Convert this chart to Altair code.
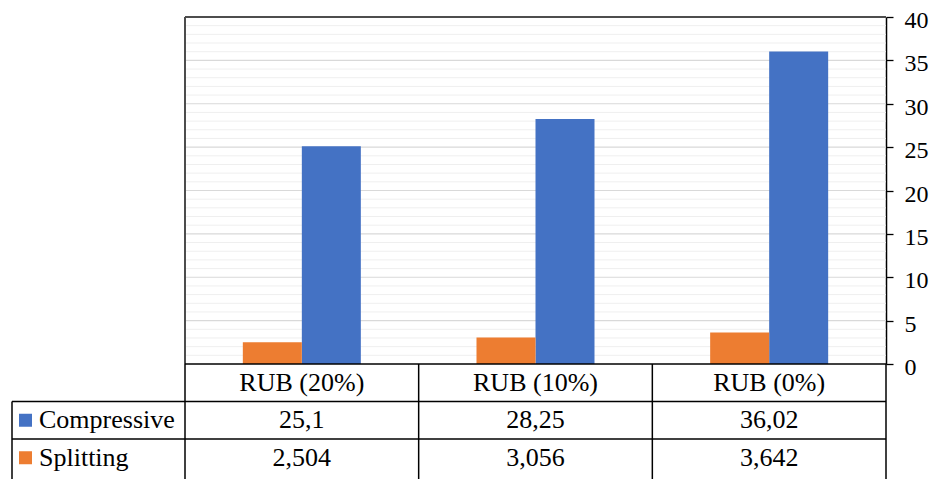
import altair as alt
import pandas as pd

categories = ["RUB (20%)", "RUB (10%)", "RUB (0%)"]
series = ["Compressive", "Splitting"]
compressive = [25.1, 28.25, 36.02]
splitting = [2.504, 3.056, 3.642]
major_ticks = [0, 5, 10, 15, 20, 25, 30, 35, 40]
minor_ticks = [i for i in range(1, 40) if i % 5 != 0]
colors = ["#4472C4", "#ED7D31"]
rows = ["header"] + series

FONT = "Liberation Serif"
FS = 26
PLOT_W = 701
PLOT_H = 347
TOTAL_H = 462

recs = []
for s, vals in zip(series, [compressive, splitting]):
    for c, v in zip(categories, vals):
        recs.append({"category": c, "series": s, "value": v,
                     "label": str(v).replace(".", ","), "row": s})
bars_df = pd.DataFrame(recs)
header_df = pd.DataFrame({"category": categories, "row": ["header"] * 3, "label": categories})
legend_df = pd.DataFrame({"series": series, "row": series})
minor_df = pd.DataFrame({"v": minor_ticks})
major_df = pd.DataFrame({"v": major_ticks[1:-1]})
row_df = pd.DataFrame({"row": ["Compressive", "Splitting"]})
hdr_row_df = pd.DataFrame({"row": ["header"]})

yscale = alt.Scale(domain=[0, 40], range=[PLOT_H, 0], nice=False, zero=True)
yaxis = alt.Axis(orient="right", values=major_ticks, title=None, grid=False,
                 tickSize=7, tickColor="#000000", tickWidth=1.3,
                 domainColor="#000000", domainWidth=1.5,
                 labelFont=FONT, labelFontSize=24, labelColor="#000000",
                 labelPadding=11, labelOffset=3.5, labelAlign="left", labelFlush=False)
xscale = alt.Scale(domain=categories, paddingInner=0, paddingOuter=0)
xenc = alt.X("category:N", sort=categories, scale=xscale, axis=None)

minor = alt.Chart(minor_df).mark_rule(color="#efefef", strokeWidth=1).encode(
    y=alt.Y("v:Q", scale=yscale, axis=yaxis, title=None))
major = alt.Chart(major_df).mark_rule(color="#d9d9d9", strokeWidth=1.2).encode(
    y=alt.Y("v:Q", scale=yscale, axis=yaxis, title=None))

bars = alt.Chart(bars_df).mark_bar().encode(
    x=xenc,
    xOffset=alt.XOffset("series:N", sort=["Splitting", "Compressive"],
                        scale=alt.Scale(domain=["Splitting", "Compressive"],
                                        paddingInner=0, paddingOuter=0.98)),
    y=alt.Y("value:Q", scale=yscale, axis=yaxis, title=None),
    color=alt.Color("series:N", scale=alt.Scale(domain=series, range=colors), legend=None),
)

top_border = alt.Chart(major_df).mark_rule(color="#4d4d4d", strokeWidth=1.8).encode(
    y=alt.datum(40, scale=yscale))
left_border = alt.Chart(major_df).mark_rule(color="#4d4d4d", strokeWidth=1.8).encode(
    x=alt.value(0), y=alt.value(0), y2=alt.value(PLOT_H))

plot = alt.layer(minor, major, bars, top_border, left_border)

tscale = alt.Scale(domain=rows, range=[PLOT_H, PLOT_H + 37.5 * 3], paddingInner=0, paddingOuter=0)
yt = alt.Y("row:N", sort=rows, scale=tscale, axis=None)
yt0 = alt.Y("row:N", sort=rows, scale=tscale, axis=None, bandPosition=0)

LINE = dict(color="#000000", strokeWidth=1.5)
h_header = alt.Chart(hdr_row_df).mark_rule(**LINE).encode(
    y=yt0, x=alt.value(0), x2=alt.value(PLOT_W))
h_rows = alt.Chart(row_df).mark_rule(**LINE).encode(
    y=yt0, x=alt.value(-173), x2=alt.value(PLOT_W))
v_cats = alt.Chart(header_df).mark_rule(**LINE).encode(
    x=alt.X("category:N", sort=categories, scale=xscale, axis=None, bandPosition=0),
    y=alt.value(PLOT_H), y2=alt.value(TOTAL_H))
v_right = alt.Chart(hdr_row_df).mark_rule(**LINE).encode(
    x=alt.value(PLOT_W), y=alt.value(PLOT_H), y2=alt.value(TOTAL_H))
v_legend = alt.Chart(row_df.head(1)).mark_rule(**LINE).encode(
    x=alt.value(-173), y=yt0, y2=alt.value(TOTAL_H))

TXT = dict(font=FONT, fontSize=FS, color="#000000")
header_text = alt.Chart(header_df).mark_text(**TXT).encode(
    x=xenc, y=yt, text="label:N")
data_text = alt.Chart(bars_df).mark_text(**TXT).encode(
    x=xenc, y=yt, text="label:N")
legend_text = alt.Chart(legend_df).mark_text(align="left", **TXT).encode(
    x=alt.value(-146), y=yt, text="series:N")
legend_sq = alt.Chart(legend_df).mark_square(size=169, opacity=1).encode(
    x=alt.value(-159.5), y=yt,
    color=alt.Color("series:N", scale=alt.Scale(domain=series, range=colors), legend=None))

table = alt.layer(h_header, h_rows, v_cats, v_right, v_legend, header_text, data_text,
                  legend_text, legend_sq)

chart = alt.layer(plot, table).resolve_scale(y="independent").properties(
    width=PLOT_W, height=TOTAL_H,
    autosize=alt.AutoSizeParams(type="none"),
    padding={"left": 177, "top": 9, "right": 44, "bottom": 0},
).configure_view(stroke=None)

chart.save("out.html", embed_options={"renderer": "svg", "actions": False})
